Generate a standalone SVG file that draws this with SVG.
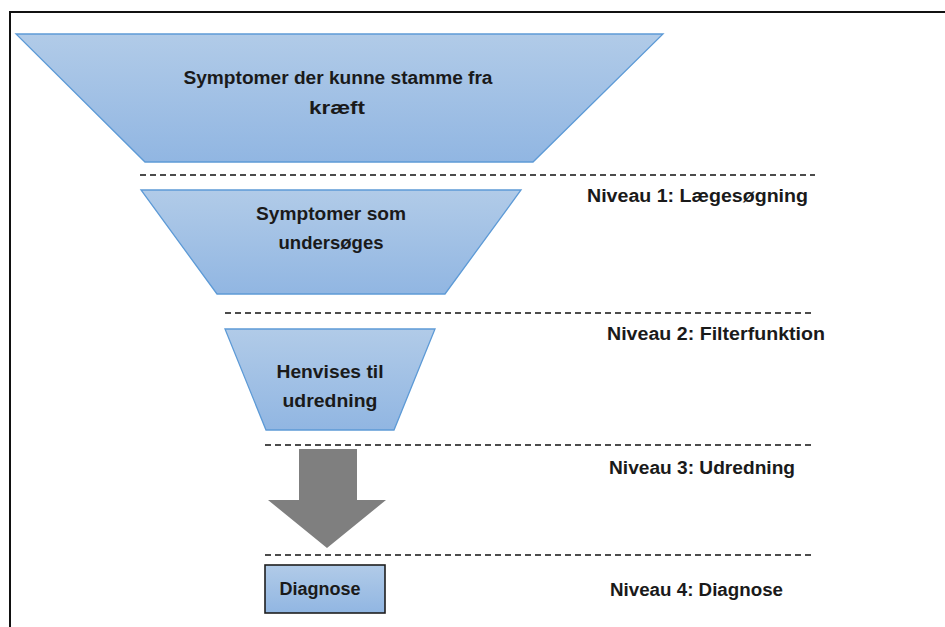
<svg xmlns="http://www.w3.org/2000/svg" width="945" height="627" viewBox="0 0 945 627">
  <defs>
    <linearGradient id="blueFill" x1="0" y1="0" x2="0" y2="1">
      <stop offset="0" stop-color="#b1cbe8"/>
      <stop offset="1" stop-color="#91b6e2"/>
    </linearGradient>
  </defs>
  <style>
    .funnel { fill: url(#blueFill); stroke: #5d9ad6; stroke-width: 1.3; }
    .box { fill: url(#blueFill); stroke: #1e1e1e; stroke-width: 1.6; }
    .lbl { font-family: "Liberation Sans", Arial, sans-serif; font-weight: bold; font-size: 18px; fill: #1a1a1a; text-anchor: middle; }
    .lvl { font-family: "Liberation Sans", Arial, sans-serif; font-weight: bold; font-size: 18px; fill: #1a1a1a; }
    .sep { stroke: #111; stroke-width: 1.5; stroke-dasharray: 6 4; fill: none; }
    .frame { stroke: #111; stroke-width: 2; fill: none; }
  </style>
  <rect width="945" height="627" fill="#ffffff"/>
  <!-- outer frame (top and left edges) -->
  <path class="frame" d="M10,627 V12 H945"/>

  <g id="connectors">
    <line class="sep" x1="140" y1="175" x2="815" y2="175"/>
    <line class="sep" x1="225" y1="313" x2="815" y2="313"/>
    <line class="sep" x1="265" y1="445" x2="815" y2="445"/>
    <line class="sep" x1="265" y1="555" x2="815" y2="555"/>
    <polygon id="arrow" fill="#7f7f7f" points="299,449 357,449 357,500 386,500 327,548 268,500 299,500"/>
  </g>

  <g id="stage-symptoms">
    <polygon class="funnel" points="16,34 663,34 533,162 145,162"/>
    <text class="lbl" x="338" y="84" textLength="309" lengthAdjust="spacingAndGlyphs">Symptomer der kunne stamme fra</text>
    <text class="lbl" x="337" y="114" textLength="56" lengthAdjust="spacingAndGlyphs">kræft</text>
  </g>

  <g id="stage-examined">
    <polygon class="funnel" points="141,190 521,190 445,294 217,294"/>
    <text class="lbl" x="331" y="220" textLength="150" lengthAdjust="spacingAndGlyphs">Symptomer som</text>
    <text class="lbl" x="331" y="249" textLength="105" lengthAdjust="spacingAndGlyphs">undersøges</text>
  </g>

  <g id="stage-referred">
    <polygon class="funnel" points="225,329 435,329 394,430 266,430"/>
    <text class="lbl" x="330" y="378" textLength="107" lengthAdjust="spacingAndGlyphs">Henvises til</text>
    <text class="lbl" x="330" y="407" textLength="95" lengthAdjust="spacingAndGlyphs">udredning</text>
  </g>

  <g id="stage-diagnosis">
    <rect class="box" x="265" y="565" width="120" height="48"/>
    <text class="lbl" x="320" y="595" textLength="81" lengthAdjust="spacingAndGlyphs">Diagnose</text>
  </g>

  <g id="levels">
    <text class="lvl" x="587" y="202" textLength="221" lengthAdjust="spacingAndGlyphs">Niveau 1: Lægesøgning</text>
    <text class="lvl" x="607" y="340" textLength="218" lengthAdjust="spacingAndGlyphs">Niveau 2: Filterfunktion</text>
    <text class="lvl" x="609" y="474" textLength="186" lengthAdjust="spacingAndGlyphs">Niveau 3: Udredning</text>
    <text class="lvl" x="610" y="596" textLength="173" lengthAdjust="spacingAndGlyphs">Niveau 4: Diagnose</text>
  </g>
</svg>
